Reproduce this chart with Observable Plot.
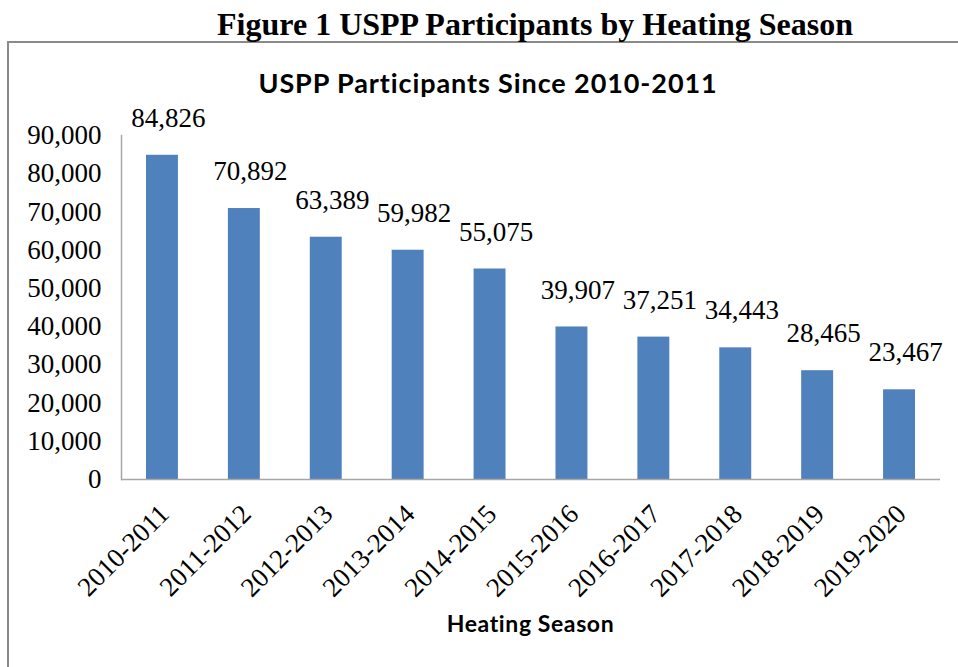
<!DOCTYPE html>
<html>
<head>
<meta charset="utf-8">
<script src="https://cdn.jsdelivr.net/npm/d3@7"></script>
<script src="https://cdn.jsdelivr.net/npm/@observablehq/plot@0.6"></script>
<style>
  html, body { margin: 0; padding: 0; background: #fff; overflow: hidden; }
  #fig { position: relative; width: 958px; height: 667px; overflow: hidden; }
  #figtitle { position: absolute; left: 0; width: 1070px; top: 7px; text-align: center;
    font-family: "Liberation Serif", "Times New Roman", serif; font-weight: bold; font-size: 32px; line-height: 34px; color: #000; white-space: nowrap; }
  #box { position: absolute; left: 7px; top: 41px; width: 1000px; height: 700px;
    border-left: 2px solid #8a8a8a; border-top: 2px solid #8a8a8a; }
  #charttitle { position: absolute; left: 0; width: 976px; top: 67px; text-align: center;
    font-family: Lato, "Liberation Sans", sans-serif; font-weight: bold; font-size: 27px; letter-spacing: 0.9px; line-height: 32px; color: #000; white-space: nowrap; }
  #xlabel { position: absolute; left: 0; width: 1061px; top: 609px; text-align: center;
    font-family: Lato, "Liberation Sans", sans-serif; font-weight: bold; font-size: 23px; letter-spacing: 0.6px; line-height: 28px; color: #000; }
  #chart { position: absolute; left: 0; top: 0; }
</style>
</head>
<body>
<div id="fig">
  <div id="box"></div>
  <div id="figtitle">Figure 1 USPP Participants by Heating Season</div>
  <div id="charttitle">USPP Participants Since 2010-2011</div>
  <div id="chart"></div>
  <div id="xlabel">Heating Season</div>
</div>
<script>
const seasons = ["2010-2011","2011-2012","2012-2013","2013-2014","2014-2015","2015-2016","2016-2017","2017-2018","2018-2019","2019-2020"];
const participants = [84826, 70892, 63389, 59982, 55075, 39907, 37251, 34443, 28465, 23467];
const yTicks = [0, 10000, 20000, 30000, 40000, 50000, 60000, 70000, 80000, 90000];

const data = seasons.map((s, i) => ({season: s, value: participants[i]}));
const fmt = d3.format(",");
const serif = "Liberation Serif, Times New Roman, serif";

const chart = Plot.plot({
  width: 958,
  height: 667,
  marginLeft: 121,
  marginRight: 18,
  marginTop: 135,
  marginBottom: 188,
  style: {fontFamily: serif, fontSize: "27px", color: "#000", background: "transparent"},
  x: {domain: seasons, paddingInner: 0.61, paddingOuter: 0.305, round: false, label: null},
  y: {domain: [0, 90000], label: null},
  marks: [
    Plot.barY(data, {x: "season", y: "value", fill: "#4F81BD"}),
    Plot.frame({anchor: "left", stroke: "#a6a6a6", strokeWidth: 1.5}),
    Plot.ruleY([0], {stroke: "#a6a6a6", strokeWidth: 1.5}),
    Plot.axisY({ticks: yTicks, tickFormat: fmt, tickSize: 0, tickPadding: 20, label: null, fontSize: 27, fontFamily: serif}),
    Plot.axisX({tickSize: 0, tickPadding: 30, tickRotate: -45, dx: 2, label: null, fontSize: 27, fontFamily: serif}),
    Plot.text(data, {x: "season", y: "value", text: d => fmt(d.value), dy: -37, dx: 6, fontSize: 27, fontFamily: serif, fill: "#000"})
  ]
});
document.getElementById("chart").appendChild(chart);
</script>
</body>
</html>
